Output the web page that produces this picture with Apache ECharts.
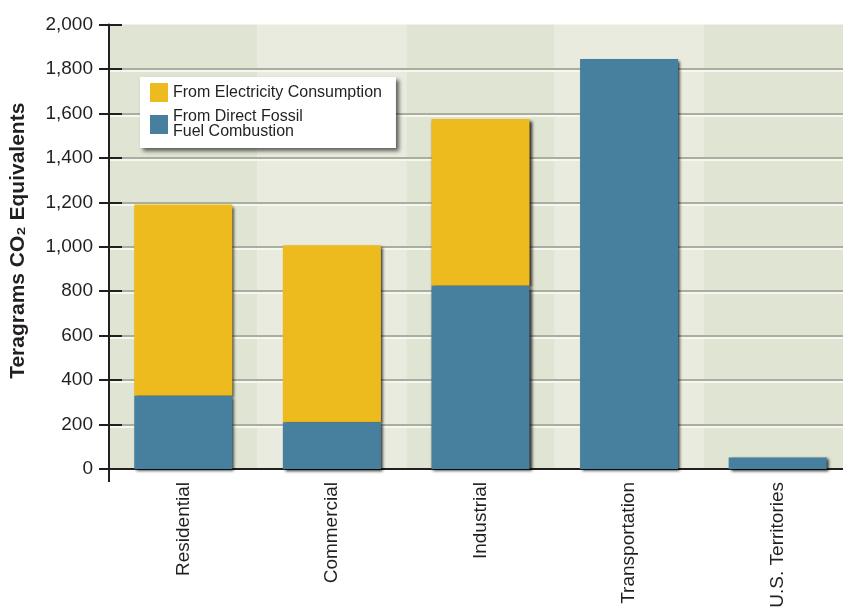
<!DOCTYPE html>
<html>
<head>
<meta charset="utf-8">
<script src="https://cdn.jsdelivr.net/npm/echarts@6/dist/echarts.min.js"></script>
<style>
  html, body { margin: 0; padding: 0; background: #ffffff; }
  #chart { width: 843px; height: 607px; }
</style>
</head>
<body>
<div id="chart"></div>
<script>
// Sectors of the economy
const categories = ['Residential', 'Commercial', 'Industrial', 'Transportation', 'U.S. Territories'];
// Emissions from direct fossil fuel combustion (Tg CO2 Eq.)
const fossilCombustion = [330, 210, 825, 1845, 52];
// Emissions allocated from electricity consumption (Tg CO2 Eq.)
const electricityConsumption = [860, 797, 750, null, null];
// Value axis ticks
const yTicks = [0, 200, 400, 600, 800, 1000, 1200, 1400, 1600, 1800, 2000];

const FONT = "'Liberation Sans', Arial, Helvetica, sans-serif";
const INK = '#231f20';
const GRID = { left: 109, right: -9, top: 24.5, bottom: 138 };

const chart = echarts.init(document.getElementById('chart'), null, { renderer: 'canvas' });

const barShadow = {
  shadowColor: 'rgba(0,0,0,0.85)',
  shadowBlur: 3,
  shadowOffsetX: 2,
  shadowOffsetY: 2
};

const option = {
  animation: false,
  backgroundColor: '#ffffff',
  textStyle: { fontFamily: FONT },
  grid: {
    left: GRID.left, right: GRID.right, top: GRID.top, bottom: GRID.bottom,
    containLabel: false,
    outerBoundsMode: 'none'
  },
  legend: {
    left: 140,
    top: 77,
    orient: 'vertical',
    backgroundColor: '#ffffff',
    padding: [6, 14, 8, 10],
    itemGap: 7,
    itemWidth: 18,
    itemHeight: 19,
    shadowColor: 'rgba(0,0,0,0.6)',
    shadowBlur: 4,
    shadowOffsetX: 3,
    shadowOffsetY: 3,
    data: [
      { name: 'From Electricity Consumption', icon: 'rect' },
      { name: 'From Direct Fossil\nFuel Combustion', icon: 'rect' }
    ],
    textStyle: { fontFamily: FONT, fontSize: 16, lineHeight: 15, color: INK }
  },
  xAxis: {
    type: 'category',
    data: categories,
    boundaryGap: true,
    z: 0,
    axisLine: { show: true, onZero: false, lineStyle: { color: INK, width: 2 } },
    axisTick: { show: false },
    axisLabel: {
      rotate: 90,
      margin: 13,
      fontFamily: FONT,
      fontSize: 19,
      color: INK
    },
    splitLine: { show: false },
    splitArea: { show: true, areaStyle: { color: ['#dfe5d2', '#e9ebdf'] } }
  },
  yAxis: [
    {
      type: 'value',
      z: 1,
      min: yTicks[0],
      max: yTicks[yTicks.length - 1],
      interval: yTicks[1] - yTicks[0],
      name: 'Teragrams CO\u2082 Equivalents',
      nameLocation: 'middle',
      nameGap: 80,
      nameTextStyle: {
        fontFamily: FONT, fontSize: 21, fontWeight: 'bold', color: INK,
        padding: [0, 0, 0, 12]
      },
      axisLine: { show: true, lineStyle: { color: INK, width: 2 } },
      axisTick: { show: true, length: 10, lineStyle: { color: INK, width: 2 } },
      axisLabel: {
        margin: 16,
        fontFamily: FONT,
        fontSize: 19,
        color: INK,
        formatter: v => v.toLocaleString('en-US')
      },
      splitLine: {
        show: true,
        showMinLine: false,
        showMaxLine: false,
        lineStyle: { color: '#a9ae9f', width: 2, shadowColor: '#f6f7f1', shadowOffsetY: 2, shadowBlur: 0 }
      }
    },
    {
      // inner half of the cross ticks on the value axis
      type: 'value',
      position: 'left',
      offset: 0,
      z: 1,
      min: yTicks[0],
      max: yTicks[yTicks.length - 1],
      interval: yTicks[1] - yTicks[0],
      axisLine: { show: false },
      axisTick: { show: true, inside: true, length: 13, lineStyle: { color: INK, width: 2 } },
      axisLabel: { show: false },
      splitLine: { show: false }
    }
  ],
  series: [
    {
      name: 'From Direct Fossil\nFuel Combustion',
      type: 'bar',
      stack: 'total',
      barWidth: '66%',
      z: 3,
      data: fossilCombustion,
      itemStyle: Object.assign({ color: '#477f9e' }, barShadow)
    },
    {
      name: 'From Electricity Consumption',
      type: 'bar',
      stack: 'total',
      barWidth: '66%',
      z: 2,
      data: electricityConsumption,
      itemStyle: Object.assign({ color: '#edbb1d' }, barShadow)
    }
  ]
};

chart.setOption(option);

// extend the value axis line a little below the category axis
const baseY = chart.convertToPixel({ yAxisIndex: 0 }, 0);
chart.setOption({
  graphic: [{
    type: 'line',
    shape: { x1: GRID.left, y1: baseY, x2: GRID.left, y2: baseY + 13 },
    style: { stroke: INK, lineWidth: 2 },
    z: 10
  }]
});
</script>
</body>
</html>
